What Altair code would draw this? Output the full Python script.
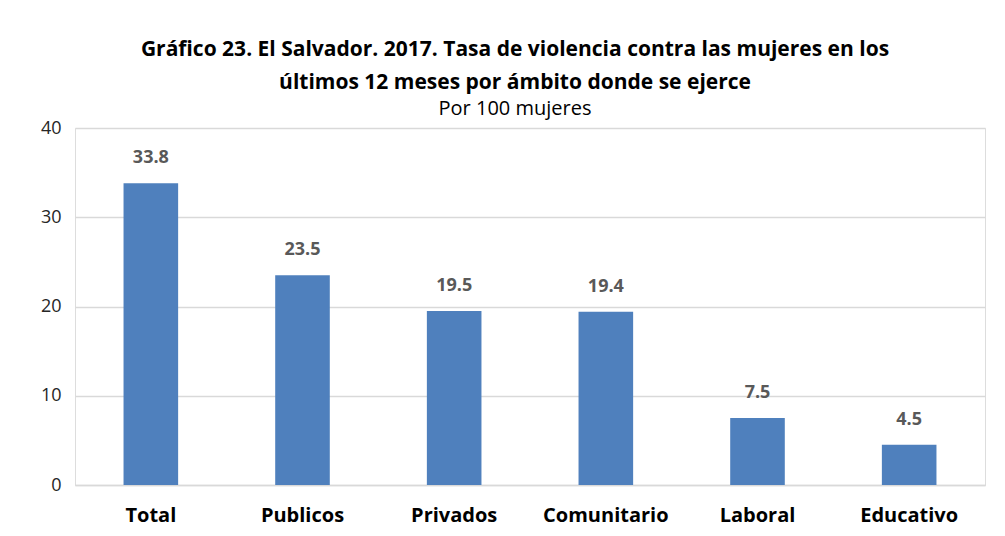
import altair as alt
import pandas as pd

categories = ["Total", "Publicos", "Privados", "Comunitario", "Laboral", "Educativo"]
values = [33.8, 23.5, 19.5, 19.4, 7.5, 4.5]
y_ticks = [0, 10, 20, 30, 40]

df = pd.DataFrame({"cat": categories, "val": values})
FONT = "Open Sans"

base = alt.Chart(df).encode(
    x=alt.X("cat:N", sort=categories,
            scale=alt.Scale(paddingInner=0.64, paddingOuter=0.32),
            axis=alt.Axis(title=None, labelAngle=0, labelFont=FONT, labelFontSize=20,
                          labelFontWeight="bold", labelColor="#000000", labelPadding=20,
                          ticks=False, domainColor="#D9D9D9", domainWidth=1.5)),
    y=alt.Y("val:Q", scale=alt.Scale(domain=[0, 40]),
            axis=alt.Axis(title=None, values=y_ticks, labelFont=FONT, labelFontSize=18,
                          labelColor="#262626", labelPadding=14, ticks=False, domain=False,
                          gridColor="#D9D9D9", gridWidth=1.5)),
)

bars = base.mark_bar(color="#4F80BD")
labels = base.mark_text(font=FONT, fontSize=18, fontWeight="bold", color="#595959",
                        baseline="middle", dy=-25).encode(text=alt.Text("val:Q", format=".1f"))

chart = (bars + labels).properties(
    width=910, height=357,
    autosize=alt.AutoSizeParams(type="none"),
    padding={"left": 67, "top": 120, "right": 10, "bottom": 48},
    title=alt.TitleParams(
        text=["Gráfico 23. El Salvador. 2017. Tasa de violencia contra las mujeres en los",
              "últimos 12 meses por ámbito donde se ejerce"],
        subtitle="Por 100 mujeres",
        font=FONT, fontSize=21, fontWeight="bold", color="#000000", lineHeight=33,
        subtitleFont=FONT, subtitleFontSize=20, subtitleColor="#000000",
        subtitlePadding=6, anchor="middle", dx=-15, offset=0),
).configure_view(stroke=None).configure(background="white")

chart.save("out.html", embed_options={"renderer": "svg", "actions": False})
